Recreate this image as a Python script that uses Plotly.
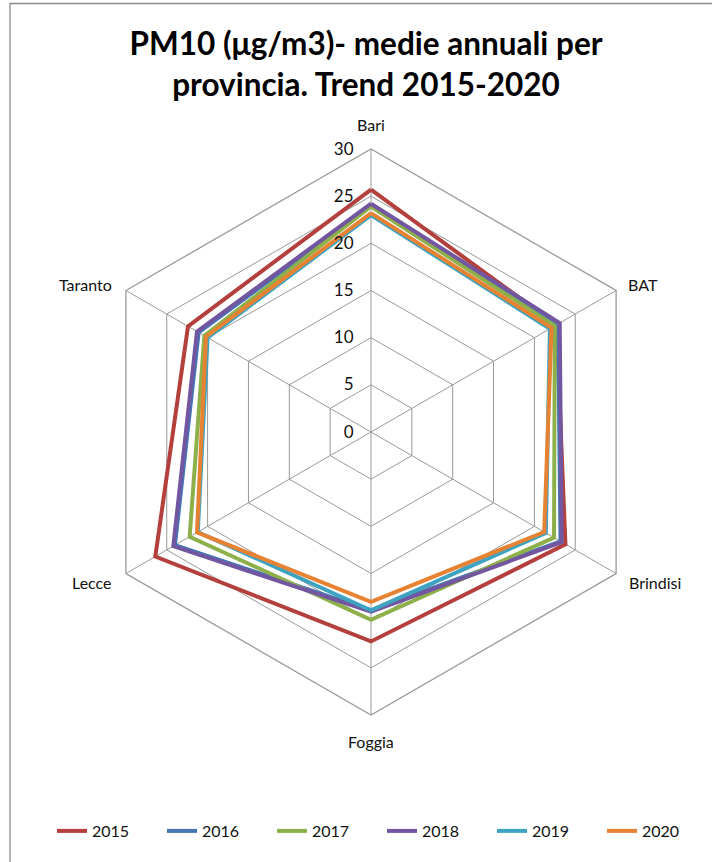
import plotly.graph_objects as go

provinces = ["Bari", "BAT", "Brindisi", "Foggia", "Lecce", "Taranto"]
years = ["2015", "2016", "2017", "2018", "2019", "2020"]
v2015 = [25.7, 22.7, 23.8, 22.2, 26.4, 22.4]
v2016 = [24.0, 22.9, 23.2, 18.9, 24.0, 21.1]
v2017 = [23.9, 22.5, 22.4, 19.9, 22.2, 20.4]
v2018 = [24.2, 23.1, 23.35, 19.05, 24.2, 21.3]
v2019 = [23.0, 21.9, 21.4, 18.9, 21.2, 20.0]
v2020 = [23.2, 22.1, 21.2, 18.0, 21.3, 20.2]
series = [v2015, v2016, v2017, v2018, v2019, v2020]
colors = ["#B3403C", "#4675B5", "#8DB04A", "#7256A0", "#3EA3C0", "#E88233"]
radial_ticks = [0, 5, 10, 15, 20, 25, 30]

W, H = 712, 862
cx, cy, R = 371, 432, 283

fig = go.Figure()
for y, vals, c in zip(years, series, colors):
    fig.add_trace(go.Scatterpolar(
        r=vals + vals[:1], theta=provinces + provinces[:1], mode="lines",
        name=y, line=dict(color=c, width=4), hoverinfo="skip"))

# category labels placed around the outer polygon
label_pos = {
    "Bari": (cx, 125, "center"),
    "BAT": (626, 285, "left"),
    "Brindisi": (627, 582, "left"),
    "Foggia": (cx, 741, "center"),
    "Lecce": (114, 582, "right"),
    "Taranto": (114, 285, "right"),
}
annotations = []
for p in provinces:
    x, y, anc = label_pos[p]
    annotations.append(dict(text=p, x=x / W, y=1 - y / H, xref="paper", yref="paper",
                            xanchor=anc, yanchor="middle", showarrow=False,
                            font=dict(size=16, color="#111")))

grid = "#999999"
fig.update_layout(
    width=W, height=H,
    margin=dict(l=0, r=0, t=0, b=0),
    paper_bgcolor="white", plot_bgcolor="white",
    font=dict(family="Lato, Carlito, sans-serif", color="#111111", size=14),
    title=dict(text="<b>PM10 (μg/m3)- medie annuali per<br>provincia. Trend 2015-2020</b>",
               x=366 / W, xanchor="center", y=1 - 55 / H, yanchor="middle",
               font=dict(size=31.5, family="Lato, sans-serif", color="#000000")),
    polar=dict(
        domain=dict(x=[(cx - R) / W, (cx + R) / W], y=[1 - (cy + R) / H, 1 - (cy - R) / H]),
        gridshape="linear", bgcolor="white",
        angularaxis=dict(direction="clockwise", rotation=90, showline=True,
                         linecolor=grid, linewidth=1.3, gridcolor=grid, gridwidth=1.3,
                         ticks="", showticklabels=False),
        radialaxis=dict(range=[0, 30], tickvals=radial_ticks, angle=90, tickangle=90,
                        side="counterclockwise", showline=False, gridcolor=grid, gridwidth=1.3,
                        ticks="outside", ticklen=11, tickcolor="rgba(0,0,0,0)",
                        tickfont=dict(size=17, color="#111")),
    ),
    legend=dict(orientation="h", x=0.54, xanchor="center", y=1 - 831 / H, yanchor="middle",
                font=dict(size=16, color="#111"), entrywidth=65, entrywidthmode="pixels"),
    showlegend=True,
    annotations=annotations,
    shapes=[dict(type="rect", xref="paper", yref="paper", x0=10 / W, x1=1.2,
                 y0=-0.2, y1=1 - 3.5 / H, line=dict(color="#8c8c8c", width=1.3))],
)
fig.write_html("out.html")
